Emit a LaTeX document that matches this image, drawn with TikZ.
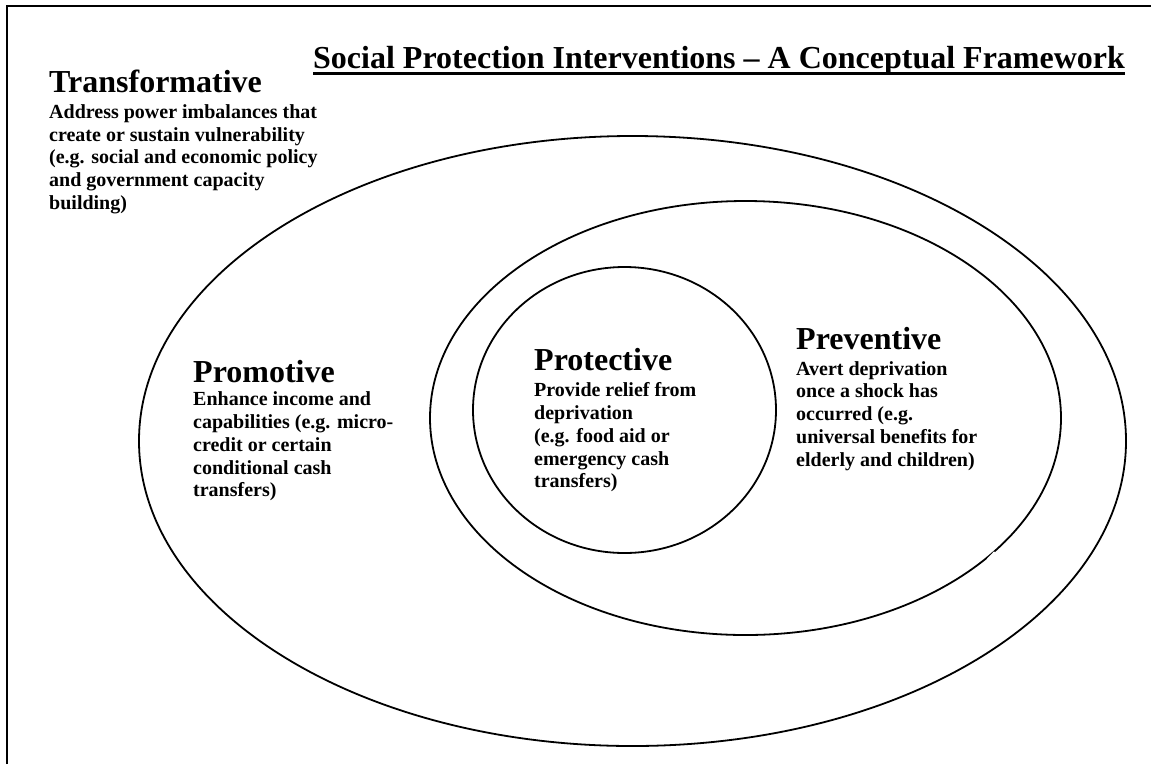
\documentclass[tikz,border=0pt]{standalone}
\usepackage{fontspec}
\setmainfont{Liberation Serif}
\begin{document}
\begin{tikzpicture}[x=1pt,y=-1pt,
  ring/.style={line width=1.8pt},
  heading/.style={anchor=base west,inner sep=0pt,font=\fontsize{32}{36}\selectfont\bfseries},
  body/.style={anchor=base west,inner sep=0pt,font=\fontsize{20}{22.8}\selectfont\bfseries},
  titletext/.style={anchor=base west,inner sep=0pt,font=\fontsize{32}{36}\selectfont\bfseries}]
\newcommand{\lines}[1]{\begin{tabular}[t]{@{}l@{}}#1\end{tabular}}
% page and frame
\fill[white] (0,0) rectangle (1151,764);
\useasboundingbox (0,0) rectangle (1151,764);
\draw[line width=2pt] (7,764) -- (7,6) -- (1151,6);

% title
\node[titletext] (title) at (313,68) {Social Protection Interventions -- A Conceptual Framework};
\draw[line width=2.8pt] ([yshift=-5.5pt]title.base west) -- ([yshift=-5.5pt]title.base east);

% nested rings
\draw[ring] (632.5,441) ellipse [x radius=493.5pt, y radius=305pt];
\draw[ring] (745.5,418) ellipse [x radius=315.5pt, y radius=217pt];
\draw[ring] (624.5,410) ellipse [x radius=151.5pt, y radius=143pt];
% small break in the middle ring
\draw[white,line width=3.2pt] (988.3,559.6) -- (995.2,552.5);

% Transformative
\node[heading] (transH) at (49,92) {Transformative};
\node[body] (transB) at (49,118.3) {\lines{Address power imbalances that\\create or sustain vulnerability\\(e.g. social and economic policy\\and government capacity\\building)}};

% Promotive
\node[heading] (promH) at (193,382) {Promotive};
\node[body] (promB) at (193,405.7) {\lines{Enhance income and\\capabilities (e.g. micro-\\credit or certain\\conditional cash\\transfers)}};

% Protective
\node[heading] (protH) at (534,370.7) {Protective};
\node[body] (protB) at (534,396.7) {\lines{Provide relief from\\deprivation\\(e.g. food aid or\\emergency cash\\transfers)}};

% Preventive
\node[heading] (prevH) at (796,349.3) {Preventive};
\node[body] (prevB) at (796,375) {\lines{Avert deprivation\\once a shock has\\occurred (e.g.\\universal benefits for\\elderly and children)}};
\end{tikzpicture}
\end{document}
